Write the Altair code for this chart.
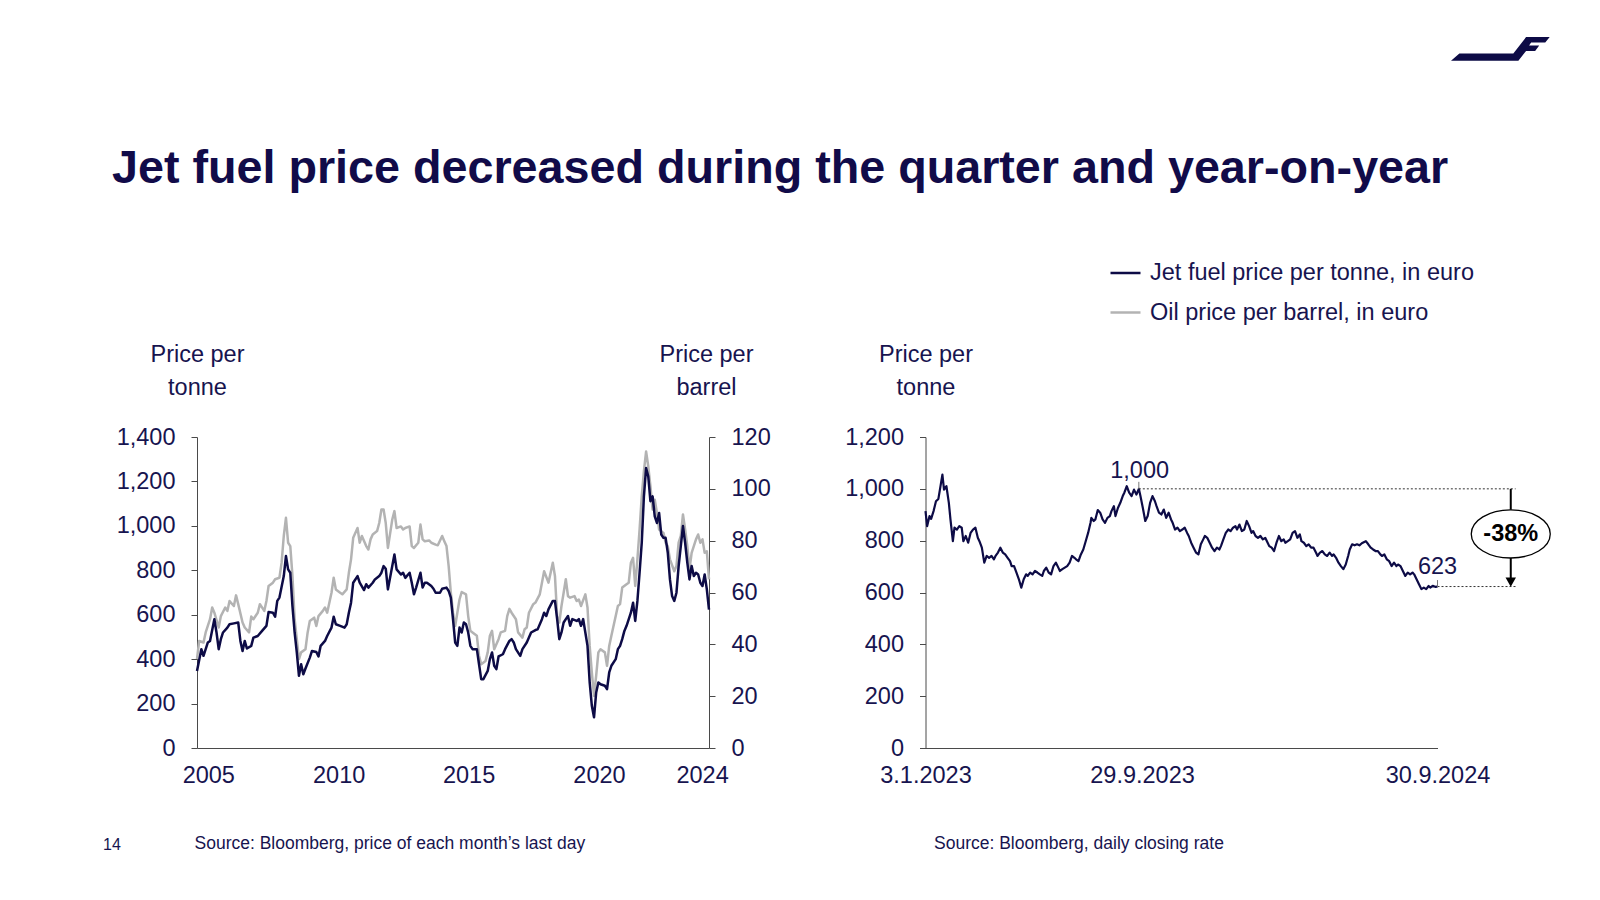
import urllib.parse
import altair as alt
import pandas as pd

# ---------------- data ----------------
# Left panel: month number counted from January 2005 (0 = Jan 2005, 236 = Sep 2024)
jet_month = [0, 2, 3, 5, 6, 8, 9, 10, 11, 12,
             14, 15, 17, 19, 20, 21, 22, 23, 25, 26,
             28, 30, 32, 33, 35, 36, 37, 38, 40, 41,
             42, 43, 44, 45, 46, 47, 48, 49, 50, 52,
             53, 55, 56, 57, 59, 60, 62, 63, 64, 66,
             68, 69, 70, 71, 72, 74, 75, 77, 78, 79,
             81, 82, 84, 85, 86, 87, 88, 90, 91, 92,
             94, 95, 96, 98, 99, 100, 101, 103, 104, 105,
             106, 108, 109, 110, 112, 113, 115, 116, 117, 118,
             119, 120, 121, 122, 123, 124, 125, 126, 127, 129,
             130, 131, 132, 134, 135, 136, 137, 138, 139, 141,
             142, 144, 145, 146, 147, 149, 150, 152, 153, 154,
             156, 157, 159, 160, 161, 162, 164, 165, 166, 167,
             168, 169, 170, 171, 172, 173, 175, 176, 177, 178,
             179, 180, 181, 182, 183, 184, 185, 186, 188, 189,
             190, 191, 193, 194, 195, 196, 197, 198, 200, 201,
             202, 203, 204, 205, 206, 207, 208, 209, 210, 211,
             212, 213, 214, 215, 216, 217, 218, 219, 220, 221,
             222, 223, 224, 225, 226, 227, 228, 229, 230, 231,
             232, 233, 234, 235, 236]
jet_tonne = [347, 445, 415, 475, 482, 580, 520, 445, 490, 520,
             542, 557, 561, 565, 482, 437, 482, 448, 460, 497,
             504, 527, 550, 612, 609, 591, 662, 677, 774, 864,
             804, 789, 639, 520, 430, 325, 377, 332, 358, 407,
             437, 432, 412, 460, 482, 504, 542, 591, 557, 550,
             542, 557, 609, 654, 744, 774, 744, 711, 737, 722,
             744, 759, 774, 789, 819, 807, 714, 819, 871, 804,
             781, 789, 766, 789, 744, 692, 722, 789, 722, 744,
             744, 729, 717, 699, 699, 717, 722, 707, 677, 580,
             475, 460, 542, 520, 565, 557, 520, 460, 445, 445,
             377, 310, 310, 347, 400, 430, 370, 355, 412, 422,
             445, 482, 490, 475, 445, 415, 445, 475, 497, 520,
             531, 534, 580, 609, 594, 624, 662, 662, 580, 490,
             520, 565, 580, 594, 550, 580, 572, 580, 550, 580,
             520, 460, 295, 190, 138, 250, 295, 287, 280, 265,
             340, 370, 400, 445, 460, 490, 527, 550, 609, 654,
             572, 662, 789, 924, 1133, 1260, 1223, 1111, 1133, 1043,
             1013, 1058, 961, 946, 946, 879, 759, 684, 662, 699,
             819, 909, 999, 924, 834, 759, 819, 774, 789, 781,
             744, 729, 781, 714, 623]

oil_month = [0, 1, 3, 4, 6, 7, 8, 10, 11, 13,
             14, 15, 17, 18, 19, 21, 22, 24, 25, 26,
             28, 29, 31, 32, 33, 35, 36, 38, 39, 40,
             41, 42, 43, 44, 45, 46, 47, 48, 50, 51,
             52, 54, 55, 56, 58, 59, 60, 62, 63, 64,
             66, 67, 69, 70, 71, 72, 74, 75, 76, 78,
             79, 80, 81, 83, 84, 85, 86, 87, 88, 90,
             91, 92, 94, 95, 96, 98, 99, 100, 102, 103,
             104, 105, 107, 108, 110, 111, 113, 114, 115, 116,
             117, 118, 119, 120, 121, 122, 124, 125, 126, 127,
             129, 130, 131, 133, 134, 135, 136, 137, 139, 140,
             142, 143, 144, 145, 147, 148, 150, 151, 152, 153,
             155, 156, 158, 159, 160, 162, 163, 164, 165, 166,
             167, 168, 169, 170, 171, 172, 174, 175, 176, 177,
             179, 180, 181, 182, 183, 184, 185, 186, 188, 189,
             190, 191, 193, 194, 195, 196, 198, 199, 200, 201,
             202, 203, 204, 205, 206, 207, 208, 209, 210, 211,
             212, 213, 215, 216, 217, 218, 220, 221, 222, 223,
             224, 225, 226, 227, 228, 229, 230, 231, 232, 233,
             234, 235, 236]
oil_barrel = [34.3, 41.3, 40.7, 44.6, 49.7, 54.2, 52.2, 46.5, 50.9, 54.2,
              52.9, 56.7, 54.8, 58.9, 55.5, 48.4, 46.5, 44.6, 50.7, 49.7,
              52.2, 55.5, 52.9, 56.7, 62.5, 63.8, 65.1, 65.7, 71.5, 81.8,
              88.8, 79.2, 77.9, 66.3, 49.7, 42.0, 34.3, 36.9, 38.1, 44.6,
              49.0, 50.3, 47.1, 50.9, 52.9, 54.2, 52.2, 59.9, 65.7, 61.2,
              59.9, 59.3, 61.2, 67.6, 72.8, 81.1, 84.9, 79.2, 81.8, 77.9,
              76.6, 80.5, 82.4, 83.7, 86.8, 92.0, 92.0, 86.8, 77.2, 88.1,
              91.4, 84.9, 85.5, 84.3, 84.9, 85.5, 77.9, 77.2, 79.2, 86.2,
              80.5, 79.8, 80.1, 79.2, 78.5, 78.2, 81.8, 79.8, 77.9, 70.2,
              59.9, 52.2, 47.1, 52.2, 57.3, 60.2, 59.3, 50.9, 45.2, 44.6,
              43.3, 35.6, 32.3, 33.6, 36.9, 43.3, 45.2, 38.1, 42.0, 44.6,
              45.2, 50.9, 53.7, 52.2, 49.7, 44.6, 42.6, 45.8, 46.5, 52.2,
              55.5, 56.1, 59.3, 63.8, 68.2, 63.8, 67.6, 71.5, 66.3, 50.9,
              48.4, 54.8, 59.9, 65.1, 58.6, 58.0, 58.6, 56.7, 57.3, 54.8,
              59.3, 54.2, 39.4, 29.1, 20.1, 27.9, 36.9, 38.1, 36.9, 31.7,
              39.4, 43.3, 50.9, 54.8, 55.5, 61.9, 63.2, 63.8, 71.5, 73.4,
              62.5, 72.8, 84.3, 97.1, 106.8, 114.4, 108.7, 101.0, 92.0, 95.8,
              90.7, 84.3, 83.0, 79.2, 77.9, 72.8, 68.2, 70.2, 79.2, 81.8,
              90.1, 84.3, 77.9, 68.9, 75.3, 77.9, 80.5, 82.4, 79.2, 80.5,
              75.3, 75.9, 65.1]

# Right panel: days counted from 3.1.2023
daily_day = [0, 2, 5, 7, 10, 13, 16, 19, 21, 23,
             26, 29, 31, 34, 36, 39, 42, 45, 47, 50,
             53, 56, 59, 62, 65, 67, 70, 73, 76, 79,
             82, 85, 87, 90, 93, 96, 99, 102, 105, 107,
             110, 113, 116, 119, 122, 125, 127, 130, 133, 136,
             139, 142, 145, 147, 150, 153, 156, 159, 162, 165,
             167, 170, 173, 176, 179, 182, 185, 187, 190, 193,
             196, 199, 202, 205, 206, 209, 211, 214, 217, 220,
             223, 226, 229, 231, 234, 236, 239, 242, 245, 247,
             250, 253, 256, 259, 262, 265, 267, 270, 273, 276,
             279, 282, 285, 287, 290, 293, 296, 299, 302, 305,
             307, 310, 313, 316, 319, 322, 325, 327, 330, 333,
             336, 339, 342, 345, 347, 350, 353, 356, 359, 362,
             365, 367, 370, 373, 376, 379, 382, 385, 387, 390,
             393, 396, 399, 402, 405, 407, 410, 413, 416, 419,
             422, 425, 427, 430, 433, 436, 439, 442, 445, 447,
             450, 453, 456, 459, 462, 465, 467, 470, 473, 476,
             479, 482, 485, 487, 490, 493, 496, 499, 502, 505,
             507, 510, 513, 516, 519, 522, 525, 527, 530, 533,
             536, 539, 542, 545, 547, 550, 553, 556, 559, 562,
             565, 567, 570, 573, 576, 579, 582, 585, 587, 590,
             593, 596, 599, 602, 605, 607, 610, 613, 616, 619,
             622, 625, 627, 630, 633, 636]
daily_tonne = [914, 856, 895, 884, 914, 952, 961, 1017, 1055, 997,
               1010, 946, 882, 798, 850, 843, 856, 850, 798, 818,
               792, 830, 843, 850, 811, 798, 773, 715, 741, 734,
               741, 728, 741, 754, 773, 754, 747, 734, 721, 702,
               702, 677, 651, 619, 651, 670, 664, 677, 670, 683,
               677, 670, 664, 683, 696, 677, 670, 702, 715, 696,
               683, 690, 696, 702, 715, 741, 734, 728, 721, 747,
               766, 798, 830, 869, 888, 876, 882, 918, 908, 882,
               869, 888, 895, 914, 933, 895, 926, 946, 972, 985,
               1010, 985, 972, 997, 978, 1000, 972, 926, 876, 895,
               946, 972, 952, 933, 908, 901, 920, 888, 908, 882,
               869, 843, 850, 837, 843, 850, 830, 818, 792, 773,
               754, 747, 786, 805, 818, 811, 792, 773, 760, 773,
               766, 779, 805, 830, 843, 837, 850, 856, 843, 862,
               837, 843, 876, 856, 830, 837, 818, 811, 818, 805,
               811, 792, 779, 773, 760, 792, 818, 798, 805, 792,
               798, 805, 830, 837, 811, 824, 798, 792, 779, 786,
               773, 773, 754, 741, 754, 760, 747, 741, 754, 741,
               747, 734, 715, 702, 690, 708, 741, 766, 786, 782,
               786, 782, 790, 795, 798, 786, 773, 766, 760, 760,
               747, 741, 747, 728, 721, 702, 715, 702, 708, 702,
               683, 664, 677, 670, 677, 670, 651, 632, 613, 619,
               613, 625, 619, 626, 622, 623]

assert len(jet_month) == len(jet_tonne)
assert len(oil_month) == len(oil_barrel)
assert len(daily_day) == len(daily_tonne)

left_tick_pos = [5.2, 65.3, 125.2, 185.3, 232.8]
left_tick_labels = ["2005", "2010", "2015", "2020", "2024"]
right_tick_dates = ["2023-01-03", "2023-09-29", "2024-09-30"]
right_tick_labels = ["3.1.2023", "29.9.2023", "30.9.2024"]

peak_day, peak_value = 265, 1000
last_day, last_value = 636, 623
change_pct = round((last_value / peak_value - 1) * 100)  # -38

JET = "Jet fuel price per tonne, in euro"
OIL = "Oil price per barrel, in euro"
TITLE = "Jet fuel price decreased during the quarter and year-on-year"
SOURCE_L = "Source: Bloomberg, price of each month\u2019s last day"
SOURCE_R = "Source: Bloomberg, daily closing rate"
PAGE = "14"

# ---------------- styling ----------------
FONT = "Liberation Sans"
NAVY = "#0d0b46"
TEXT = "#17144f"
TITLE_C = "#110b49"
GRAY = "#b3b3b3"
AXIS_C = "#4a4a4a"
FS = 23.5
W, H = 512, 311
GAP = 216.5

# annotation placement (in the right panel's day units)
ANN_END = 733
ARROW_DAY = 727
ELLIPSE_V = 826


def lab_expr(vals, labs):
    return f"{labs!r}[indexof({vals!r}, datum.value)]"


start = pd.Timestamp(right_tick_dates[0])
right_tick_pos = [(pd.Timestamp(d) - start).days for d in right_tick_dates]

jet_df = pd.DataFrame({"m": jet_month, "v": jet_tonne, "s": JET})
oil_df = pd.DataFrame({"m": oil_month, "v": oil_barrel, "s": OIL})
day_df = pd.DataFrame({"d": daily_day, "v": daily_tonne, "s": JET})

color_scale = alt.Scale(domain=[JET, OIL], range=[NAVY, GRAY])


def y_axis(values, title, title_x, orient="left", fmt=",d"):
    return alt.Axis(orient=orient, values=values, format=fmt, title=title,
                    titleX=title_x, titleY=-75.6, titleAngle=0, titleAlign="center",
                    titleBaseline="alphabetic", titleFontSize=FS, titleFontWeight="normal",
                    titleFont=FONT, titleColor=TEXT, titleLineHeight=32.7,
                    tickSize=6, labelPadding=16, grid=False)


def x_axis(values, expr, footer, fx):
    return alt.Axis(values=values, labelExpr=expr, ticks=False, labelPadding=15,
                    labelFlush=False, labelOverlap=False, grid=False,
                    title=footer, titleX=fx, titleY=100, titleAlign="left",
                    titleBaseline="alphabetic", titleFontSize=17.5,
                    titleFontWeight="normal", titleFont=FONT, titleColor=TEXT)


# ---------------- left panel ----------------
xl = alt.X("m:Q", scale=alt.Scale(domain=[0, 236], nice=False, zero=False),
           axis=x_axis(left_tick_pos, lab_expr(left_tick_pos, left_tick_labels), SOURCE_L, -3))

oil_line = alt.Chart(oil_df).mark_line(strokeWidth=2.5, strokeJoin="round").encode(
    x=xl,
    y=alt.Y("v:Q", scale=alt.Scale(domain=[0, 120], nice=False),
            axis=y_axis(list(range(0, 121, 20)), ["Price per", "barrel"], -3, orient="right", fmt="d")),
    color=alt.Color("s:N", scale=color_scale, legend=None),
)
jet_line = alt.Chart(jet_df).mark_line(strokeWidth=2.5, strokeJoin="round").encode(
    x=xl,
    y=alt.Y("v:Q", scale=alt.Scale(domain=[0, 1400], nice=False),
            axis=y_axis(list(range(0, 1401, 200)), ["Price per", "tonne"], 0)),
    color=alt.Color("s:N", scale=color_scale, legend=None),
)
one = pd.DataFrame({"k": [0]})
title_txt = alt.Chart(one).mark_text(text=TITLE, align="left", baseline="alphabetic", font=FONT,
                                     fontSize=46.7, fontWeight="bold", color=TITLE_C).encode(
    x=alt.value(-85), y=alt.value(-254))
page_txt = alt.Chart(one).mark_text(text=PAGE, align="left", baseline="alphabetic", font=FONT,
                                    fontSize=16, color=TEXT).encode(
    x=alt.value(-94), y=alt.value(413))
anchor = alt.Chart(one).mark_point(size=1, opacity=0).encode(
    x=alt.value(-188.5), y=alt.value(-428.5))

left = alt.layer(oil_line, jet_line, title_txt, page_txt, anchor).resolve_scale(
    y="independent").properties(width=W, height=H)

# ---------------- right panel ----------------
xr = alt.X("d:Q", scale=alt.Scale(domain=[0, right_tick_pos[-1]], nice=False, zero=False),
           axis=x_axis(right_tick_pos, lab_expr(right_tick_pos, right_tick_labels), SOURCE_R, 8))
yr = alt.Y("v:Q", scale=alt.Scale(domain=[0, 1200], nice=False),
           axis=y_axis(list(range(0, 1201, 200)), ["Price per", "tonne"], 0))

daily_line = alt.Chart(day_df).mark_line(strokeWidth=2.2, strokeJoin="round").encode(
    x=xr, y=yr,
    color=alt.Color("s:N", scale=color_scale, legend=alt.Legend(
        orient="none", legendX=183.5, legendY=-180.5, title=None, direction="vertical",
        symbolType="stroke", symbolSize=900, symbolStrokeWidth=2.5,
        labelFont=FONT, labelFontSize=FS, labelColor=TEXT, labelLimit=0,
        labelOffset=8, rowPadding=11.5, padding=0)),
)

dot_df = pd.DataFrame({"d": [peak_day, last_day], "d2": [ANN_END, ANN_END],
                       "v": [peak_value, last_value]})
dotted = alt.Chart(dot_df).mark_rule(strokeDash=[2, 2], strokeWidth=1, color="#333333").encode(
    x="d:Q", x2="d2:Q", y="v:Q")

lead_df = pd.DataFrame({"d": [peak_day, last_day], "v": [peak_value, last_value],
                        "v2": [peak_value + 27, last_value + 25]})
leaders = alt.Chart(lead_df).mark_rule(strokeWidth=1, color="#777777").encode(
    x="d:Q", y="v:Q", y2="v2:Q")

arrow_df = pd.DataFrame({"d": [ARROW_DAY], "v": [peak_value], "v2": [last_value + 25]})
arrow = alt.Chart(arrow_df).mark_rule(strokeWidth=2, color="black").encode(
    x="d:Q", y="v:Q", y2="v2:Q")
head_df = pd.DataFrame({"d": [ARROW_DAY], "v": [last_value + 17]})
head = alt.Chart(head_df).mark_point(shape="triangle-down", filled=True, color="black",
                                     size=110, opacity=1).encode(x="d:Q", y="v:Q")

ell_df = pd.DataFrame({"d": [ARROW_DAY], "v": [ELLIPSE_V]})
ELLIPSE = "M-1,0A1,0.61,0,1,0,1,0A1,0.61,0,1,0,-1,0Z"
ellipse = alt.Chart(ell_df).mark_point(shape=ELLIPSE, filled=True, fill="white", stroke="black",
                                       strokeWidth=1.3, size=6241, opacity=1).encode(
    x="d:Q", y="v:Q")
pct = alt.Chart(ell_df).mark_text(text=f"{change_pct}%", font=FONT, fontSize=23.5,
                                  fontWeight="bold", color="black", baseline="middle").encode(
    x="d:Q", y="v:Q")

peak_lab = alt.Chart(pd.DataFrame({"d": [peak_day + 1], "v": [peak_value]})).mark_text(
    text=f"{peak_value:,}", font=FONT, fontSize=FS, color=TEXT, baseline="alphabetic", dy=-11).encode(
    x="d:Q", y="v:Q")
last_lab = alt.Chart(pd.DataFrame({"d": [last_day], "v": [last_value]})).mark_text(
    text=f"{last_value}", font=FONT, fontSize=FS, color=TEXT, baseline="alphabetic", dy=-13).encode(
    x="d:Q", y="v:Q")

LOGO = ('<svg xmlns="http://www.w3.org/2000/svg" viewBox="0 0 98 23">'
        '<path fill="#0d0b46" d="M0,22.7L8.3,16L61.7,16L74.3,1L97.7,1L93.3,6L79.3,6L77.3,8.7'
        'L87.3,8.7L83.3,13.7L74.3,13.7L66.7,22.7Z"/></svg>')
logo_url = "data:image/svg+xml;charset=utf-8," + urllib.parse.quote(LOGO)
logo = alt.Chart(one).mark_image(width=99, height=25, align="left", baseline="top",
                                 aspect=False).encode(
    x=alt.value(525.5), y=alt.value(-401), url=alt.value(logo_url))

right = alt.layer(daily_line, dotted, leaders, arrow, head, ellipse, pct, peak_lab, last_lab,
                  logo).properties(width=W, height=H)

chart = alt.hconcat(left, right, spacing=GAP, bounds="flush").resolve_scale(
    color="independent").resolve_legend(color="independent").properties(
    padding=0).configure_view(stroke=None).configure_axis(
    labelFont=FONT, labelFontSize=FS, labelColor=TEXT, domainColor=AXIS_C,
    tickColor=AXIS_C, domainWidth=1, tickWidth=1)

chart.save("out.html", embed_options={"renderer": "svg", "actions": False})
